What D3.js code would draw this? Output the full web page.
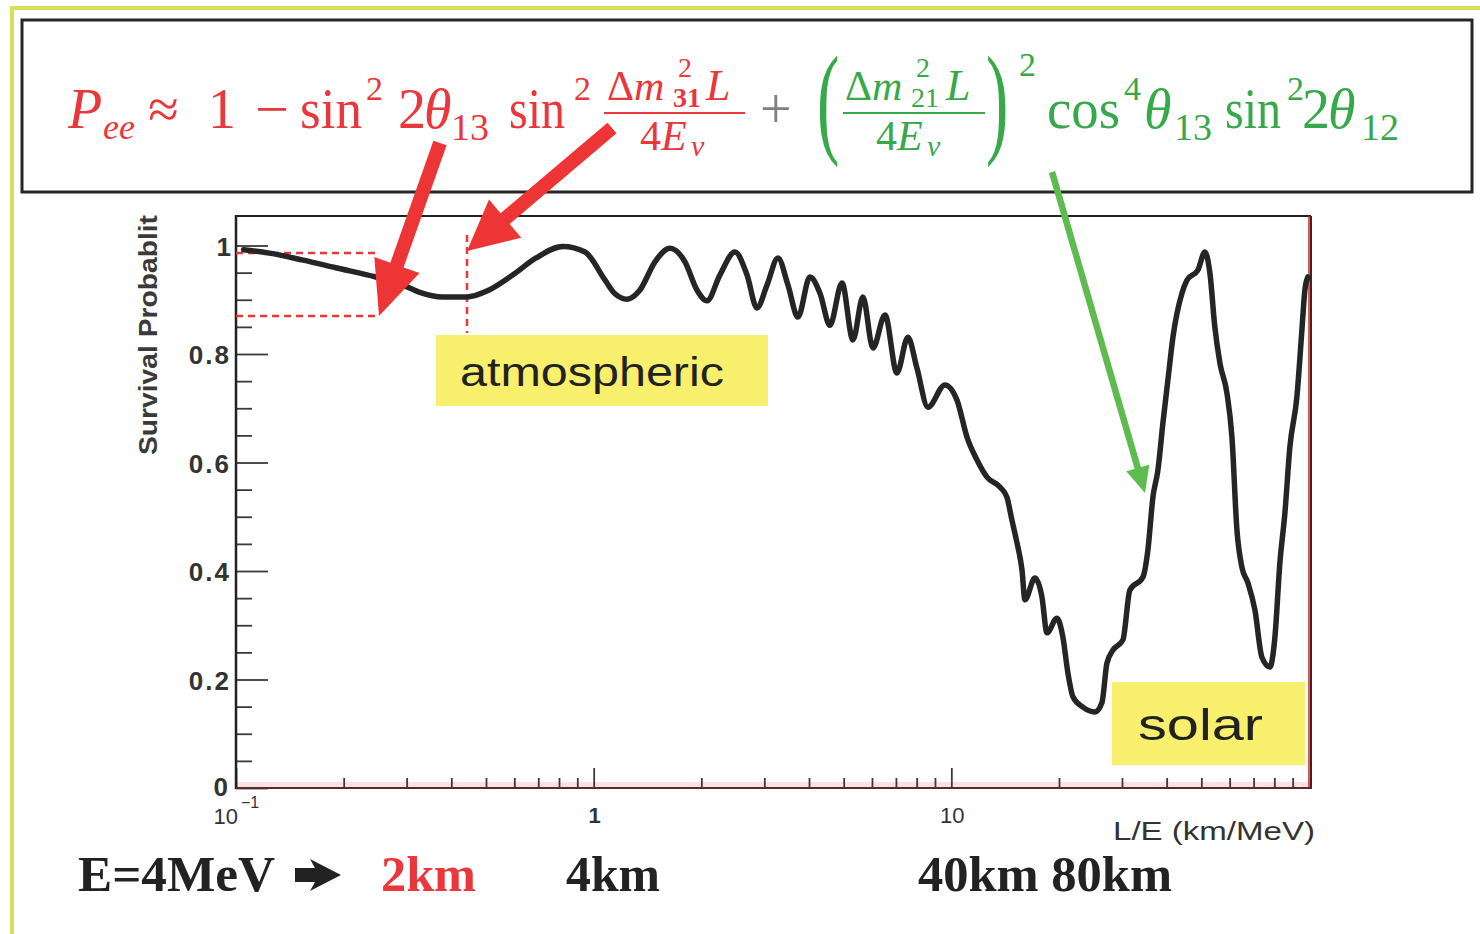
<!DOCTYPE html>
<html><head><meta charset="utf-8">
<script src="https://cdn.jsdelivr.net/npm/d3@7"></script>
<style>body{margin:0;background:#fff;} svg{display:block;}</style>
</head><body>
<svg id="c" width="1480" height="934"></svg>
<script>
// ---- data ----
const lOverE = [0.105,0.124,0.154,0.190,0.246,0.293,0.325,0.379,0.440,0.510,0.595,0.690,0.820,0.946,1.076,1.147,1.239,1.347,1.484,1.635,1.800,1.944,2.074,2.255,2.483,2.683,2.861,3.052,3.275,3.494,3.725,4.024,4.293,4.577,4.946,5.307,5.660,6.037,6.524,7.045,7.561,8.013,8.605,9.596,10.37,11.06,11.79,12.58,13.67,14.30,14.77,15.26,15.76,16.06,17.13,17.92,18.51,19.73,20.51,21.18,21.88,23.33,25.20,26.36,27.23,28.30,30.18,31.57,34.34,35.45,36.61,37.81,39.05,40.32,41.65,44.13,45.57,48.92,51.17,52.84,54.54,56.36,58.96,60.89,62.87,64.93,67.49,70.60,73.85,77.75,80.29,82.91,85.63,88.43,92.51,95.54,97.39,99.29];
const survival = [0.992,0.986,0.973,0.959,0.942,0.927,0.914,0.905,0.905,0.918,0.946,0.977,0.998,0.988,0.936,0.911,0.901,0.918,0.970,0.995,0.970,0.918,0.898,0.946,0.988,0.946,0.885,0.927,0.977,0.927,0.868,0.942,0.912,0.853,0.931,0.826,0.905,0.811,0.872,0.765,0.831,0.774,0.702,0.743,0.715,0.647,0.605,0.573,0.555,0.536,0.494,0.452,0.402,0.347,0.387,0.352,0.286,0.313,0.278,0.212,0.168,0.149,0.140,0.157,0.230,0.254,0.273,0.365,0.389,0.439,0.536,0.586,0.673,0.752,0.831,0.912,0.936,0.955,0.988,0.949,0.850,0.783,0.728,0.647,0.476,0.407,0.378,0.328,0.241,0.223,0.278,0.415,0.507,0.629,0.721,0.844,0.918,0.942];
const yMajorTicks = [0,0.2,0.4,0.6,0.8,1];
const yMajorLabels = ["0","0.2","0.4","0.6","0.8","1"];
const yMinorTicks = [0.05,0.1,0.15,0.25,0.3,0.35,0.45,0.5,0.55,0.65,0.7,0.75,0.85,0.9,0.95];
const xMajorTicks = [0.1,1,10,100];
const xMajorLabels = ["10","1","10"];
const xMinorTicks = [0.2,0.3,0.4,0.5,0.6,0.7,0.8,0.9,2,3,4,5,6,7,8,9,20,30,40,50,60,70,80,90];
const yTitle = "Survival Probablit";
const xTitle = "L/E (km/MeV)";
const boxLabels = ["atmospheric","solar"];
const energyLabel = "E=4MeV";
const distanceLabels = ["2km","4km","40km 80km"];

// ---- drawing ----
const svg = d3.select("#c");
const RED = "#e9373b", GREEN = "#38a94b", ARED = "#ee3535", AGREEN = "#5dbb4f";
const SERIF = "'Liberation Serif','Times New Roman',serif";
const SANS = "'Liberation Sans',Arial,Helvetica,sans-serif";

// outer yellow-green frame
svg.append("line").attr("x1",12).attr("y1",8).attr("x2",1480).attr("y2",8).attr("stroke","#d6e15a").attr("stroke-width",4);
svg.append("line").attr("x1",12).attr("y1",6).attr("x2",12).attr("y2",934).attr("stroke","#d6e15a").attr("stroke-width",4);

// formula box
svg.append("rect").attr("x",22).attr("y",20).attr("width",1450).attr("height",172)
  .attr("fill","#fff").attr("stroke","#262626").attr("stroke-width",3);

const fg = svg.append("g").attr("font-family",SERIF);
function piece(x,y,s,size,fill,opt){
  opt = opt||{};
  const t = fg.append("text").attr("x",x).attr("y",y).attr("font-size",size).attr("fill",fill).text(s);
  if(opt.it) t.attr("font-style","italic");
  if(opt.b) t.attr("font-weight","bold");
  if(opt.len) t.attr("textLength",opt.len).attr("lengthAdjust","spacingAndGlyphs");
  if(opt.tr) t.attr("x",null).attr("y",null).attr("transform",opt.tr);
  return t;
}
// red part
piece(68,128,"P",56,RED,{it:1});
piece(103,139,"ee",36,RED,{it:1});
piece(148,128,"≈",56,RED);
piece(208,128,"1",56,RED);
piece(255,128,"−",56,RED,{len:34});
piece(300,128,"sin",56,RED,{len:62});
piece(366,100,"2",34,RED);
piece(398,128,"2",56,RED);
piece(424,128,"θ",56,RED,{it:1});
piece(451,140,"13",38,RED);
piece(509,128,"sin",56,RED,{len:56});
piece(574,100,"2",34,RED);
piece(607,100,"Δ",42,RED);
piece(634,100,"m",42,RED,{it:1});
piece(678,77,"2",28,RED);
piece(673,107,"31",28,RED,{b:1});
piece(706,100,"L",44,RED,{it:1});
fg.append("line").attr("x1",604).attr("x2",745).attr("y1",113).attr("y2",113).attr("stroke",RED).attr("stroke-width",2);
piece(640,150,"4",42,RED);
piece(661,150,"E",42,RED,{it:1});
piece(691,156,"ν",30,RED,{it:1});
piece(760,128,"+",56,"#808080");
// green part
piece(0,0,"(",122,GREEN,{tr:"translate(817,141) scale(0.55,1)"});
piece(845,100,"Δ",42,GREEN);
piece(872,100,"m",42,GREEN,{it:1});
piece(916,77,"2",28,GREEN);
piece(911,107,"21",28,GREEN);
piece(946,100,"L",44,GREEN,{it:1});
fg.append("line").attr("x1",843).attr("x2",985).attr("y1",113).attr("y2",113).attr("stroke",GREEN).attr("stroke-width",2);
piece(876,150,"4",42,GREEN);
piece(897,150,"E",42,GREEN,{it:1});
piece(927,156,"ν",30,GREEN,{it:1});
piece(0,0,")",122,GREEN,{tr:"translate(986,141) scale(0.55,1)"});
piece(1019,76,"2",34,GREEN);
piece(1047,128,"cos",56,GREEN,{len:73});
piece(1124,100,"4",34,GREEN);
piece(1144,128,"θ",56,GREEN,{it:1});
piece(1174,140,"13",38,GREEN);
piece(0,0,"sin",56,GREEN,{tr:"translate(1225,128) scale(0.86,1)"});
piece(1287,100,"2",34,GREEN);
piece(1302,128,"2",56,GREEN);
piece(1328,128,"θ",56,GREEN,{it:1});
piece(1361,140,"12",38,GREEN);

// ---- plot ----
const X0=236, X1=1309, Y0=788, Y1=216;
const x = d3.scaleLog().domain([0.1,100]).range([X0,X1]);
const y = d3.scaleLinear().domain([0,1.0544]).range([Y0,Y1]);

// pink band at bottom
svg.append("rect").attr("x",X0).attr("y",Y0-6).attr("width",X1-X0+1).attr("height",6).attr("fill","#fbe1e1");

// ticks
const axMinX = svg.append("g").attr("transform",`translate(0,${Y0})`)
  .call(d3.axisBottom(x).tickValues(xMinorTicks).tickSize(-10).tickFormat(""));
const axMajX = svg.append("g").attr("transform",`translate(0,${Y0})`)
  .call(d3.axisBottom(x).tickValues(xMajorTicks.slice(0,3)).tickSize(-20).tickFormat(""));
const axMinY = svg.append("g").attr("transform",`translate(${X0},0)`)
  .call(d3.axisLeft(y).tickValues(yMinorTicks).tickSize(-16).tickFormat(""));
const axMajY = svg.append("g").attr("transform",`translate(${X0},0)`)
  .call(d3.axisLeft(y).tickValues(yMajorTicks).tickSize(-32).tickFormat(""));
[axMinX,axMajX,axMinY,axMajY].forEach(a=>{a.select(".domain").remove(); a.selectAll("line").attr("stroke","#3a3a3a").attr("stroke-width",1.8);});

// frame
svg.append("line").attr("x1",X0).attr("x2",1311).attr("y1",Y1).attr("y2",Y1).attr("stroke","#222").attr("stroke-width",2);
svg.append("line").attr("x1",X0).attr("x2",X0).attr("y1",Y1-1).attr("y2",Y0+1).attr("stroke","#222").attr("stroke-width",2.5);
svg.append("line").attr("x1",1311).attr("x2",1311).attr("y1",Y1).attr("y2",Y0+1).attr("stroke","#4a2020").attr("stroke-width",2);
svg.append("line").attr("x1",1309).attr("x2",1309).attr("y1",Y1).attr("y2",Y0).attr("stroke","#d42020").attr("stroke-width",1.5);
svg.append("line").attr("x1",X0).attr("x2",1312).attr("y1",Y0).attr("y2",Y0).attr("stroke","#5a2a2a").attr("stroke-width",2);

// y labels
yMajorTicks.forEach((v,i)=>{
  svg.append("text").attr("x", v===0?228:231).attr("y", y(v)+(v===0?8:10))
    .attr("text-anchor","end").attr("font-family",SANS).attr("font-weight","bold")
    .attr("font-size",26).attr("letter-spacing",(v===0||v===1)?0:2).attr("fill","#333").text(yMajorLabels[i]);
});
// x labels
svg.append("text").attr("x",238).attr("y",824).attr("text-anchor","end").attr("font-family",SANS).attr("font-size",22).attr("fill","#333").text(xMajorLabels[0]);
svg.append("text").attr("x",241).attr("y",808).attr("font-family",SANS).attr("font-size",16).attr("fill","#333").text("−1");
svg.append("text").attr("x",x(1)+1).attr("y",823).attr("text-anchor","middle").attr("font-family",SANS).attr("font-weight","bold").attr("font-size",22).attr("fill","#333").text(xMajorLabels[1]);
svg.append("text").attr("x",x(10)+1).attr("y",823).attr("text-anchor","middle").attr("font-family",SANS).attr("font-size",22).attr("fill","#333").text(xMajorLabels[2]);
svg.append("text").attr("x",1113).attr("y",840).attr("font-family",SANS).attr("font-size",26).attr("fill","#333")
  .attr("textLength",202).attr("lengthAdjust","spacingAndGlyphs").text(xTitle);
// y title
svg.append("text").attr("transform","translate(157,335) rotate(-90)").attr("text-anchor","middle")
  .attr("font-family",SANS).attr("font-weight","bold").attr("font-size",26).attr("fill","#3a3a3a")
  .attr("textLength",240).attr("lengthAdjust","spacingAndGlyphs").text(yTitle);

// yellow label boxes
svg.append("rect").attr("x",436).attr("y",335).attr("width",332).attr("height",71).attr("fill","#f8ef6c");
svg.append("text").attr("x",460).attr("y",386).attr("font-family",SANS).attr("font-size",40).attr("fill","#222")
  .attr("textLength",264).attr("lengthAdjust","spacingAndGlyphs").text(boxLabels[0]);
svg.append("rect").attr("x",1112).attr("y",682).attr("width",193).attr("height",83).attr("fill","#f8ef6c");
svg.append("text").attr("x",1138).attr("y",740).attr("font-family",SANS).attr("font-size",44).attr("fill","#222")
  .attr("textLength",125).attr("lengthAdjust","spacingAndGlyphs").text(boxLabels[1]);

// red dashed markers
[[X0,379,253,253],[X0,379,316,316],[467,467,235,333]].forEach(s=>{
  svg.append("line").attr("x1",s[0]).attr("x2",s[1]).attr("y1",s[2]).attr("y2",s[3])
    .attr("stroke",RED).attr("stroke-width",2.5).attr("stroke-dasharray","7,5");
});

// curve
const pts = lOverE.map((v,i)=>[v,survival[i]]);
svg.append("path").datum(pts)
  .attr("d", d3.line().x(d=>x(d[0])).y(d=>y(d[1])).curve(d3.curveMonotoneX))
  .attr("fill","none").attr("stroke","#252525").attr("stroke-width",5.5).attr("stroke-linejoin","round").attr("stroke-linecap","round");

// arrows
function arrow(x0,y0,x1,y1,w,hl,hw,color){
  const dx=x1-x0, dy=y1-y0, L=Math.hypot(dx,dy), ux=dx/L, uy=dy/L, px=-uy, py=ux;
  const bx=x1-ux*hl, by=y1-uy*hl;
  const p=[[x0+px*w/2,y0+py*w/2],[bx+px*w/2,by+py*w/2],[bx+px*hw,by+py*hw],[x1,y1],
           [bx-px*hw,by-py*hw],[bx-px*w/2,by-py*w/2],[x0-px*w/2,y0-py*w/2]];
  svg.append("path").attr("d","M"+p.map(q=>q.join(",")).join("L")+"Z").attr("fill",color);
}
arrow(440,143,379,316,14,54,24,ARED);
arrow(612,128,467,251,14,50,25,ARED);
arrow(1052,172,1145,493,6.5,26,12,AGREEN);

// bottom annotations
const bottom = (x0,txt,len,col)=>svg.append("text").attr("x",x0).attr("y",891).attr("font-family",SERIF).attr("font-weight","bold")
  .attr("font-size",50).attr("fill",col).attr("textLength",len).attr("lengthAdjust","spacingAndGlyphs").text(txt);
bottom(78,energyLabel,197,"#222");
svg.append("path").attr("d","M295,868 L315,868 L310,859 L341,875 L310,891 L315,882 L295,882 Z").attr("fill","#222");
bottom(381,distanceLabels[0],95,RED);
bottom(566,distanceLabels[1],94,"#222");
bottom(918,distanceLabels[2],254,"#222");
</script>
</body></html>
